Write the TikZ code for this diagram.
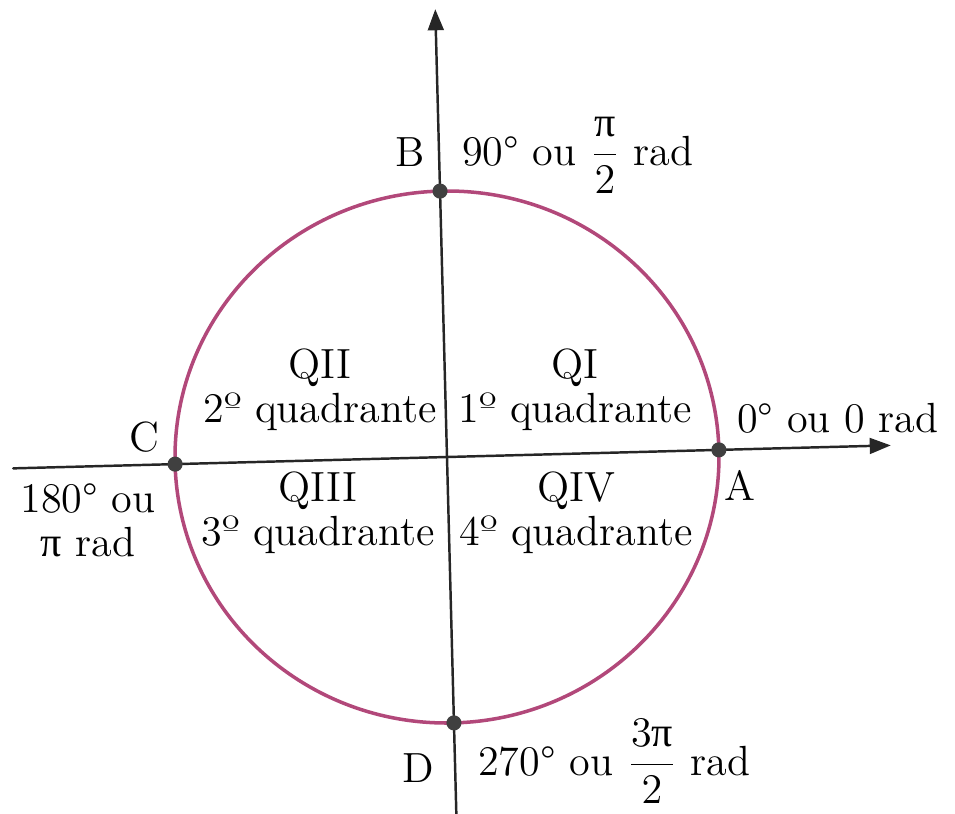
\documentclass[tikz,border=0pt]{standalone}
\usepackage{fontspec}
\newfontfamily\pifont{Liberation Serif}
\usetikzlibrary{arrows.meta}
\begin{document}
\begin{tikzpicture}[line join=round,line cap=round,>={Stealth[length=6pt,width=4.5pt,inset=0pt]},
		font=\fontsize{12}{12.5}\selectfont,
		eixo/.style={line width=0.7pt,black!85},
		ponto/.style={circle,fill=black!75,inner sep=0pt,minimum size=4.3pt},
		rotulo/.style={inner sep=1pt},
		quad/.style={inner sep=1pt,align=center}]
		\definecolor{arco}{RGB}{178,72,122}
		\useasboundingbox (-4.47,-3.56) rectangle (5.08,4.57);
		
		% eixos e circulo (a figura original esta um pouco girada)
		\begin{scope}[rotate=1.5]
			\coordinate (O) at (0,0);
			\coordinate (xmin) at (-4.34,0);
			\coordinate (xmax) at (4.44,0);
			\coordinate (ymin) at (0,-3.62);
			\coordinate (ymax) at (0,4.48);
			\draw[arco,line width=1pt] (O) ellipse [x radius=2.72,y radius=2.66];
			\draw[eixo,->] (xmin)--(xmax);
			\draw[eixo,->] (ymin)--(ymax);
			\node[ponto] (A) at (2.72,0) {};
			\node[ponto] (B) at (0,2.66) {};
			\node[ponto] (C) at (-2.72,0) {};
			\node[ponto] (D) at (0,-2.66) {};
		\end{scope}
		
		% rotulos dos pontos
		\node[rotulo] (lA) at (2.93,-0.28) {A};
		\node[rotulo,anchor=base west] (angA) at (2.86,0.25) {0° ou 0 rad};
		\node[rotulo] (lB) at (-0.37,3.05) {B};
		\node[rotulo,anchor=base west] (angB) at (0.11,2.92) {90° ou $\displaystyle\frac{\hbox{\pifont π}}{2}$ rad};
		\node[rotulo] (lC) at (-3.03,0.20) {C};
		\node[rotulo,align=center] (angC) at (-3.59,-0.63) {180° ou\\{\pifont π} rad};
		\node[rotulo] (lD) at (-0.29,-3.11) {D};
		\node[rotulo,anchor=base west] (angD) at (0.27,-3.18) {270° ou $\displaystyle\frac{3\hbox{\pifont π}}{2}$\ rad};
		
		% quadrantes
		\node[quad] (q1) at (1.28,0.67) {QI\\1º quadrante};
		\node[quad] (q2) at (-1.27,0.67) {QII\\2º quadrante};
		\node[quad] (q3) at (-1.29,-0.56) {QIII\\3º quadrante};
		\node[quad] (q4) at (1.29,-0.56) {QIV\\4º quadrante};
\end{tikzpicture}
\end{document}
